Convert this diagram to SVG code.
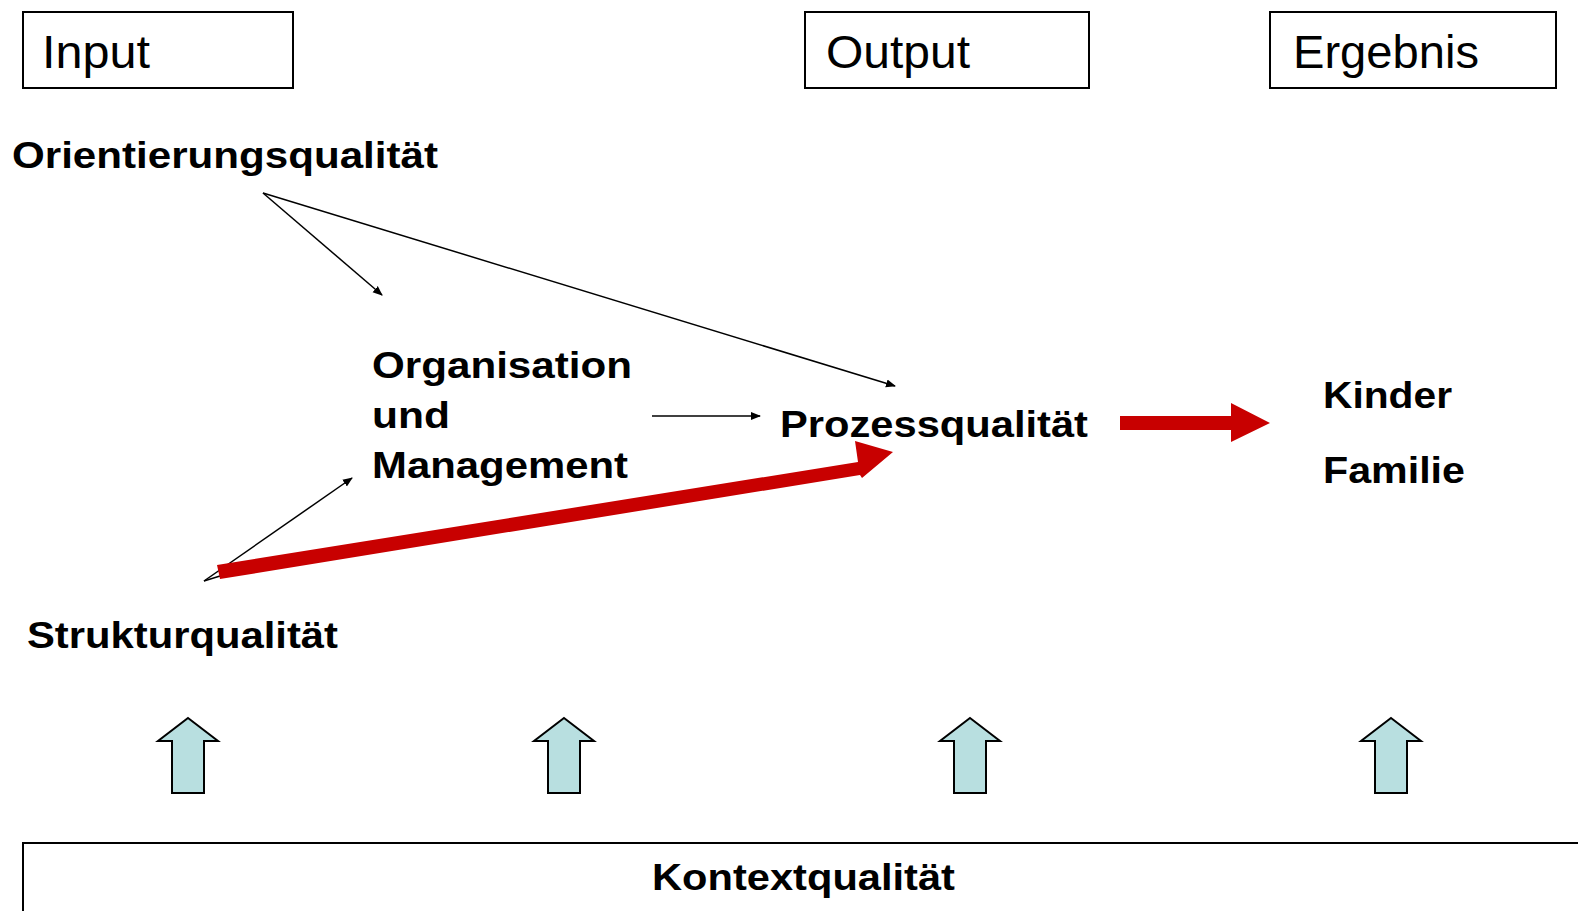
<svg xmlns="http://www.w3.org/2000/svg" width="1578" height="911" viewBox="0 0 1578 911">
<defs>
<style>
.box{fill:#fff;stroke:#000;stroke-width:2}
.hd{font-family:"Liberation Sans",Arial,sans-serif;font-size:46px;fill:#000}
.lb{font-family:"Liberation Sans",Arial,sans-serif;font-size:36px;font-weight:bold;fill:#000}
.thin{stroke:#000;stroke-width:1.5;fill:none;marker-end:url(#ah)}
.red{fill:#c80000}
.up{fill:#b8dfe0;stroke:#000;stroke-width:2}
</style>
<marker id="ah" viewBox="0 0 10 10" refX="9" refY="5" markerWidth="10" markerHeight="10" markerUnits="userSpaceOnUse" orient="auto">
<path d="M0,1 L10,5 L0,9 Z" fill="#000"/>
</marker>
<path id="uparrow" class="up" d="M0,0 L30,23 L16,23 L16,75 L-16,75 L-16,23 L-30,23 Z"/>
</defs>
<rect width="1578" height="911" fill="#fff"/>

<g id="input"><rect class="box" x="23" y="12" width="270" height="76"/><text class="hd" x="42" y="68" textLength="108" lengthAdjust="spacingAndGlyphs">Input</text></g>
<g id="output"><rect class="box" x="805" y="12" width="284" height="76"/><text class="hd" x="826" y="68" textLength="144" lengthAdjust="spacingAndGlyphs">Output</text></g>
<g id="ergebnis"><rect class="box" x="1270" y="12" width="286" height="76"/><text class="hd" x="1293" y="68" textLength="186" lengthAdjust="spacingAndGlyphs">Ergebnis</text></g>

<g id="orientierung"><text class="lb" x="12" y="168" textLength="426" lengthAdjust="spacingAndGlyphs">Orientierungsqualität</text></g>
<g id="organisation"><text class="lb" x="372" y="378" textLength="260" lengthAdjust="spacingAndGlyphs">Organisation</text><text class="lb" x="372" y="428" textLength="78" lengthAdjust="spacingAndGlyphs">und</text><text class="lb" x="372" y="478" textLength="256" lengthAdjust="spacingAndGlyphs">Management</text></g>
<g id="prozess"><text class="lb" x="780" y="437" textLength="308" lengthAdjust="spacingAndGlyphs">Prozessqualität</text></g>
<g id="ergebnisse"><text class="lb" x="1323" y="408" textLength="129" lengthAdjust="spacingAndGlyphs">Kinder</text><text class="lb" x="1323" y="483" textLength="142" lengthAdjust="spacingAndGlyphs">Familie</text></g>
<g id="struktur"><text class="lb" x="27" y="648" textLength="311" lengthAdjust="spacingAndGlyphs">Strukturqualität</text></g>

<g id="kontext"><rect class="box" x="23" y="843" width="1580" height="100"/><text class="lb" x="652" y="890" textLength="303" lengthAdjust="spacingAndGlyphs">Kontextqualität</text></g>

<g id="connectors">
<line class="thin" x1="263" y1="193" x2="382" y2="295"/>
<line class="thin" x1="263" y1="193" x2="895" y2="386"/>
<line class="thin" x1="652" y1="416" x2="760" y2="416"/>
<line class="thin" x1="204" y1="581" x2="352" y2="478"/>
<line x1="204" y1="581" x2="220" y2="576" stroke="#000" stroke-width="1.5"/>
<path class="red" d="M217,565 L858,462 L855,441 L893,452 L862,478 L860,475 L220,579 Z"/>
<path class="red" d="M1120,416 L1231,416 L1231,403 L1270,423 L1231,442 L1231,430 L1120,430 Z"/>
<use href="#uparrow" x="188" y="718"/>
<use href="#uparrow" x="564" y="718"/>
<use href="#uparrow" x="970" y="718"/>
<use href="#uparrow" x="1391" y="718"/>
</g>
</svg>
